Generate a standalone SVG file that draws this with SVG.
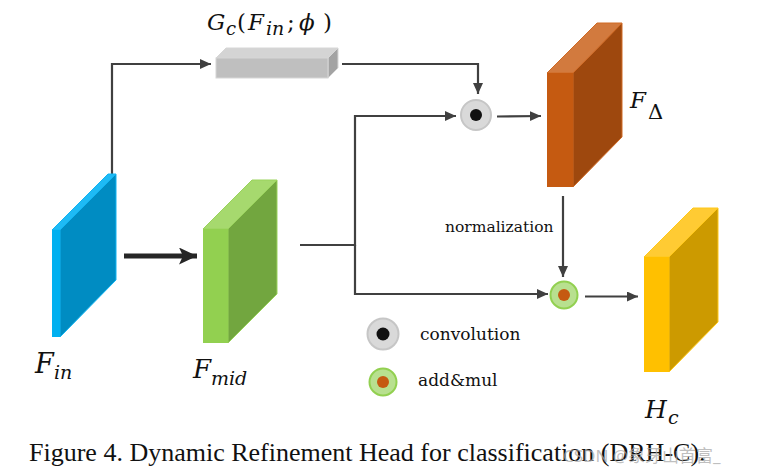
<svg xmlns="http://www.w3.org/2000/svg" width="762" height="476" viewBox="0 0 762 476">
<defs>
<style>
.ln{fill:none;stroke:#404040;stroke-width:2.2}
.math{font-family:"DejaVu Serif","Liberation Serif",serif;font-style:italic;fill:#111}
.lbl{font-family:"DejaVu Serif","Liberation Serif",serif;fill:#111}
.cap{font-family:"Liberation Serif","Times New Roman",serif;fill:#111;font-size:26px}
</style>
<marker id="ah" markerUnits="userSpaceOnUse" markerWidth="12" markerHeight="12" refX="11" refY="5" orient="auto">
<path d="M0,0 L11,5 L0,10 z" fill="#404040"/>
</marker>
<marker id="ahb" markerUnits="userSpaceOnUse" markerWidth="20" markerHeight="18" refX="18" refY="8.5" orient="auto">
<path d="M0,0 L18,8.5 L0,17 L4,8.5 z" fill="#262626"/>
</marker>
</defs>
<rect width="762" height="476" fill="#fff"/>

<g id="connectors">
<polyline class="ln" points="112,175 112,64 211,64" marker-end="url(#ah)"/>
<polyline class="ln" points="342,64 478,64 478,94" marker-end="url(#ah)"/>
<polyline class="ln" points="300,245 355,245 355,116 456,116" marker-end="url(#ah)"/>
<polyline class="ln" points="355,245 355,294 548,294" marker-end="url(#ah)"/>
<line class="ln" x1="497" y1="116.5" x2="541" y2="116" marker-end="url(#ah)"/>
<line class="ln" x1="563" y1="196" x2="563" y2="277" marker-end="url(#ah)"/>
<line class="ln" x1="585" y1="296.5" x2="638" y2="296.5" marker-end="url(#ah)"/>
<line x1="124" y1="256" x2="197" y2="256" stroke="#262626" stroke-width="5" marker-end="url(#ahb)"/>
</g>

<g id="Fin">
<polygon points="60,230 116,174 116,280 60,337" fill="#008CC2" stroke="#10B4F2" stroke-width="1"/>
<polygon points="52,230 108,174 116,174 60,230" fill="#1EBAF5" stroke="#10B4F2" stroke-width="1"/>
<rect x="52" y="230" width="8" height="107" fill="#00B0F0"/>
<text class="math" font-size="27"><tspan x="35" y="373">F</tspan><tspan x="54" y="379" font-size="19">in</tspan></text>
</g>

<g id="Fmid">
<polygon points="228,229 277,180 277,294 228,343" fill="#72A63F" stroke="#9AD35C" stroke-width="1"/>
<polygon points="203,229 252,180 277,180 228,229" fill="#A6D96E" stroke="#9AD35C" stroke-width="1"/>
<rect x="203" y="229" width="25" height="114" fill="#92D050"/>
<text class="math" font-size="26"><tspan x="193" y="378">F</tspan><tspan x="211" y="385" font-size="19">mid</tspan></text>
</g>

<g id="Gc">
<polygon points="328,58 338,48 338,68 328,78" fill="#A3A3A3" stroke="#D6D6D6" stroke-width="1"/>
<polygon points="216,58 226,48 338,48 328,58" fill="#D4D4D4" stroke="#D6D6D6" stroke-width="1"/>
<rect x="216" y="58" width="112" height="20" fill="#BFBFBF" stroke="#D6D6D6" stroke-width="1"/>
<text class="math" font-size="23"><tspan x="207" y="30">G</tspan><tspan x="226" y="35" font-size="18">c</tspan><tspan x="237" y="30" font-style="normal">(</tspan><tspan x="248" y="30">F</tspan><tspan x="266" y="35" font-size="19">in</tspan><tspan x="287" y="30" font-style="normal">;</tspan><tspan x="299" y="30">ϕ</tspan><tspan x="323" y="30" font-style="normal">)</tspan></text>
</g>

<g id="conv">
<circle cx="476" cy="115" r="15" fill="#D9D9D9" stroke="#C6C6C6" stroke-width="2"/>
<circle cx="476" cy="115" r="6" fill="#111"/>
</g>

<g id="Fdelta">
<polygon points="573,73 622,23 622,137 573,187" fill="#9E480E" stroke="#D06A25" stroke-width="1"/>
<polygon points="547,73 597,23 622,23 573,73" fill="#D27A3E" stroke="#D06A25" stroke-width="1"/>
<rect x="547" y="73" width="26" height="114" fill="#C55A11"/>
<text class="math" font-size="23"><tspan x="630" y="108">F</tspan><tspan x="648" y="119" font-style="normal" font-size="21">Δ</tspan></text>
</g>

<text class="lbl" x="445" y="232" font-size="15.5">normalization</text>

<g id="addmul">
<circle cx="564" cy="295" r="13.5" fill="#B8E08F" stroke="#92D050" stroke-width="2"/>
<circle cx="564" cy="295" r="6" fill="#C55A11"/>
</g>

<g id="Hc">
<polygon points="669,257 718,208 718,322 669,372" fill="#CC9A00" stroke="#FFC81A" stroke-width="1"/>
<polygon points="644,257 693,208 718,208 669,257" fill="#FFCB33" stroke="#FFC81A" stroke-width="1"/>
<rect x="644" y="257" width="25" height="115" fill="#FFC000"/>
<text class="math" font-size="25"><tspan x="645" y="418">H</tspan><tspan x="668" y="424" font-size="19">c</tspan></text>
</g>

<g id="legend">
<circle cx="383" cy="334" r="15.5" fill="#D9D9D9" stroke="#C6C6C6" stroke-width="2"/>
<circle cx="383" cy="334" r="6.5" fill="#111"/>
<text class="lbl" x="420" y="340" font-size="17">convolution</text>
<circle cx="383" cy="382" r="13.5" fill="#B8E08F" stroke="#92D050" stroke-width="2"/>
<circle cx="383" cy="382" r="6" fill="#C55A11"/>
<text class="lbl" x="418" y="386" font-size="17">add&amp;mul</text>
</g>

<text class="cap" x="29" y="461">Figure 4. Dynamic Refinement Head for classification (DRH-C).</text>
<text x="563" y="462" font-family="'Noto Sans', 'Noto Sans CJK SC', sans-serif" font-size="17" fill="#AAAAAA" fill-opacity="0.75">CSDN @象牙山首富_</text>
</svg>
